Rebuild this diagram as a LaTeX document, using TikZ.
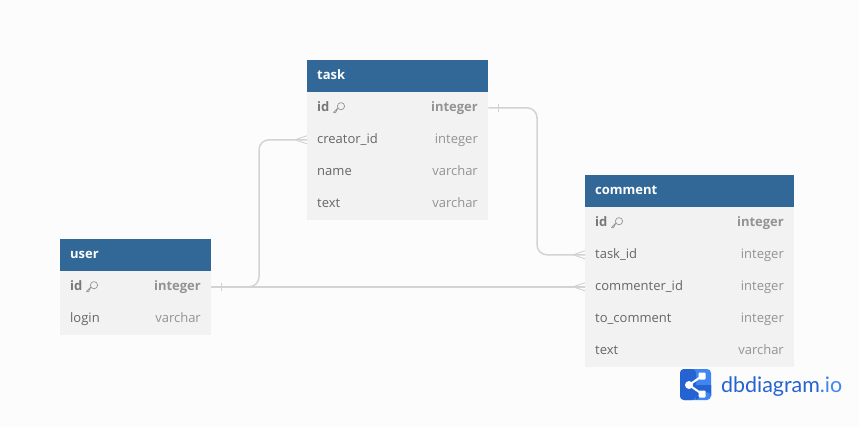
\documentclass[tikz,border=0pt]{standalone}
\usepackage{fontspec}
\setmainfont{Open Sans}
\newfontfamily\logofont{Lato}
\usetikzlibrary{calc}
\definecolor{pagebg}{HTML}{FCFCFC}
\definecolor{headblue}{HTML}{316897}
\definecolor{rowbg}{HTML}{F2F2F2}
\definecolor{fieldtxt}{HTML}{666666}
\definecolor{pktxt}{HTML}{777777}
\definecolor{typetxt}{HTML}{939393}
\definecolor{linkgray}{HTML}{D3D3D3}
\definecolor{logodark}{HTML}{2463D1}
\definecolor{logolight}{HTML}{3F86F0}
\tikzset{
  x=1pt,y=-1pt,
  headbox/.style={fill=headblue,draw=none,inner sep=0pt,anchor=north west,minimum height=32pt},
  rowbox/.style={fill=rowbg,draw=none,inner sep=0pt,anchor=north west,minimum height=32pt},
  headtxt/.style={text=white,font=\fontsize{13}{16}\selectfont\bfseries,inner sep=0pt,anchor=base west},
  fieldname/.style={text=fieldtxt,font=\fontsize{13}{16}\selectfont,inner sep=0pt,anchor=base west},
  fieldtype/.style={text=typetxt,font=\fontsize{13}{16}\selectfont,inner sep=0pt,anchor=base east},
  pkname/.style={fieldname,text=pktxt,font=\fontsize{13}{16}\selectfont\bfseries},
  pktype/.style={fieldtype,font=\fontsize{13}{16}\selectfont\bfseries},
  link/.style={draw=linkgray,line width=1.5pt,rounded corners=10pt},
  linkmark/.style={draw=linkgray,line width=1pt},
}
% \dbhead{name}{x}{y}{width}{title}
\newcommand{\dbhead}[5]{%
  \node[headbox,minimum width=#4pt] (#1) at (#2,#3) {};
  \node[headtxt] (#1-title) at (#2+10,#3+19.5) {#5};
}
% \dbrow{name}{x}{y}{width}{field}{type}
\newcommand{\dbrow}[6]{%
  \node[rowbox,minimum width=#4pt] (#1) at (#2,#3) {};
  \node[fieldname] (#1-name) at (#2+10,#3+19.5) {#5};
  \node[fieldtype] (#1-type) at (#2+#4-10,#3+19.5) {#6};
}
% \dbpk{name}{x}{y}{width}{type}
\newcommand{\dbpk}[5]{%
  \node[rowbox,minimum width=#4pt] (#1) at (#2,#3) {};
  \node[pkname] (#1-name) at (#2+10,#3+19.5) {id};
  \node[pktype] (#1-type) at (#2+#4-10,#3+19.5) {#5};
  \draw[typetxt,line width=0.7pt,line join=round]
    (#2+26.5,#3+20.5) -- (#2+31,#3+15.8) -- (#2+28.5,#3+20.8) -- cycle
    (#2+34,#3+14.2) circle[radius=3.6pt];
}
\begin{document}
\begin{tikzpicture}
\useasboundingbox (0,0) rectangle (859,427);
\fill[pagebg] (0,0) rectangle (859,427);

\coordinate (bendA) at (537,180);
\coordinate (bendB) at (259,210);

% task
\dbhead{task}{307}{60}{181}{task}
\dbpk{taskid}{307}{92}{181}{integer}
\dbrow{taskcreator}{307}{124}{181}{creator\_id}{integer}
\dbrow{taskname}{307}{156}{181}{name}{varchar}
\dbrow{tasktext}{307}{188}{181}{text}{varchar}

% user
\dbhead{user}{60}{239}{151}{user}
\dbpk{userid}{60}{271}{151}{integer}
\dbrow{userlogin}{60}{303}{151}{login}{varchar}

% comment
\dbhead{comment}{585}{175}{209}{comment}
\dbpk{commentid}{585}{207}{209}{integer}
\dbrow{commenttask}{585}{239}{209}{task\_id}{integer}
\dbrow{commentuser}{585}{271}{209}{commenter\_id}{integer}
\dbrow{commentto}{585}{303}{209}{to\_comment}{integer}
\dbrow{commenttext}{585}{335}{209}{text}{varchar}

% links
\draw[link] ([yshift=.4pt]taskid.east) -| (bendA) |- ([yshift=.4pt]commenttask.west);
\draw[link] ([yshift=.4pt]userid.east) -| (bendB) |- ([yshift=.4pt]taskcreator.west);
\draw[link] ([yshift=.4pt]userid.east) -- ([yshift=.4pt]commentuser.west);

% one-side bars
\draw[linkmark] ($(taskid.east)+(10,-4.4)$) -- ($(taskid.east)+(10,3.6)$);
\draw[linkmark] ($(userid.east)+(10,-4.4)$) -- ($(userid.east)+(10,3.6)$);

% crow's feet
\draw[linkmark] ($(taskcreator.west)+(-12,-.4)$) -- ($(taskcreator.west)+(0,-4.4)$)
                ($(taskcreator.west)+(-12,-.4)$) -- ($(taskcreator.west)+(0,3.6)$);
\draw[linkmark] ($(commenttask.west)+(-12,-.4)$) -- ($(commenttask.west)+(0,-4.4)$)
                ($(commenttask.west)+(-12,-.4)$) -- ($(commenttask.west)+(0,3.6)$);
\draw[linkmark] ($(commentuser.west)+(-12,-.4)$) -- ($(commentuser.west)+(0,-4.4)$)
                ($(commentuser.west)+(-12,-.4)$) -- ($(commentuser.west)+(0,3.6)$);

% logo
\fill[logolight,rounded corners=4pt] (680,369) rectangle (711,400);
\fill[logodark,rounded corners=4pt] (680,369) -- (696,369) -- (696,400) -- (680,400) -- cycle;
\fill[logolight] (696,369) -- (696,385) -- (711,385) -- (711,396) -- (696,396) -- cycle;
\fill[logodark] (696,385) -- (711,385) -- (711,396) arc[start angle=0,end angle=90,radius=4pt] -- (696,400) -- cycle;
\draw[white,line width=2pt] (689,385) -- (702,376) (689,385) -- (702,394);
\fill[white] (689,385) circle[radius=4pt];
\fill[white,rounded corners=1pt] (698.5,372.5) rectangle (705.5,379.5);
\fill[white,rounded corners=1pt] (698.5,390.5) rectangle (705.5,397.5);
\node[inner sep=0pt,anchor=base west,font=\logofont\fontsize{21.4}{26}\selectfont] (logo) at (721,392)
  {\textcolor{logodark}{dbdiagram}\textcolor{logolight}{.io}};
\end{tikzpicture}
\end{document}
